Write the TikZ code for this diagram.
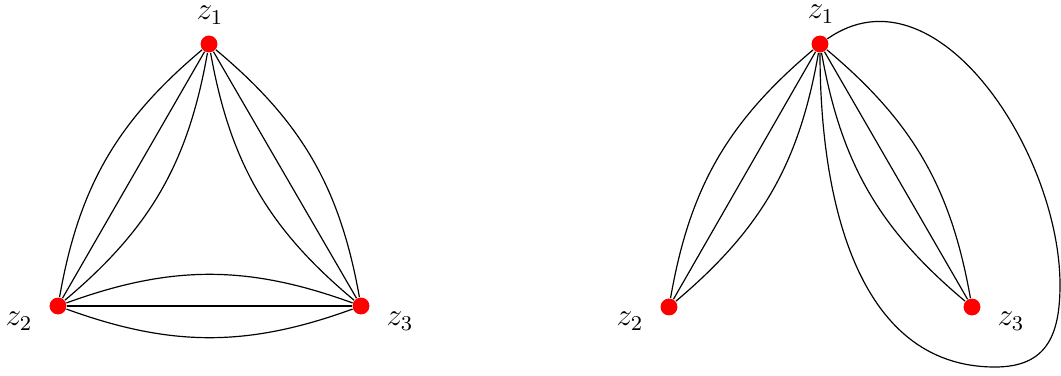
\documentclass[tikz,border=0pt]{standalone}
\begin{document}
\begin{tikzpicture}[x=0.38pt,y=-0.38pt,
  vtx/.style={circle,fill=red,draw=none,inner sep=0pt,minimum size=6.4pt},
  lbl/.style={inner sep=0pt,font=\large},
  edg/.style={line width=0.45pt,black}]
\useasboundingbox (0,0) rectangle (1061,375);
% left graph
\node[vtx] (a1) at (209,44) {};
\node[vtx] (a2) at (58,306) {};
\node[vtx] (a3) at (361,306) {};
\node[lbl] (la1) at (210,15) {$z_1$};
\node[lbl] (la2) at (19,321) {$z_2$};
\node[lbl] (la3) at (400,321) {$z_3$};
\draw[edg] (a1) -- (a2);
\draw[edg] (a1) to[bend left=20] (a2);
\draw[edg] (a1) to[bend right=20] (a2);
\draw[edg] (a1) -- (a3);
\draw[edg] (a1) to[bend left=20] (a3);
\draw[edg] (a1) to[bend right=20] (a3);
\draw[edg] (a2) -- (a3);
\draw[edg] (a2) to[bend left=20] (a3);
\draw[edg] (a2) to[bend right=20] (a3);
% right graph
\node[vtx] (b1) at (820,44) {};
\node[vtx] (b2) at (669,307) {};
\node[vtx] (b3) at (972,307) {};
\node[lbl] (lb1) at (821,14) {$z_1$};
\node[lbl] (lb2) at (630,321) {$z_2$};
\node[lbl] (lb3) at (1011,321) {$z_3$};
\draw[edg] (b1) -- (b2);
\draw[edg] (b1) to[bend left=20] (b2);
\draw[edg] (b1) to[bend right=20] (b2);
\draw[edg] (b1) -- (b3);
\draw[edg] (b1) to[bend left=20] (b3);
\draw[edg] (b1) to[bend right=20] (b3);
\coordinate (lr) at (1060,285);
\coordinate (lb) at (995,367);
\draw[edg] (b1) to[out=35,in=90] (lr) to[out=-90,in=0,looseness=1.25] (lb) to[out=180,in=-90] (b1);
\end{tikzpicture}
\end{document}
